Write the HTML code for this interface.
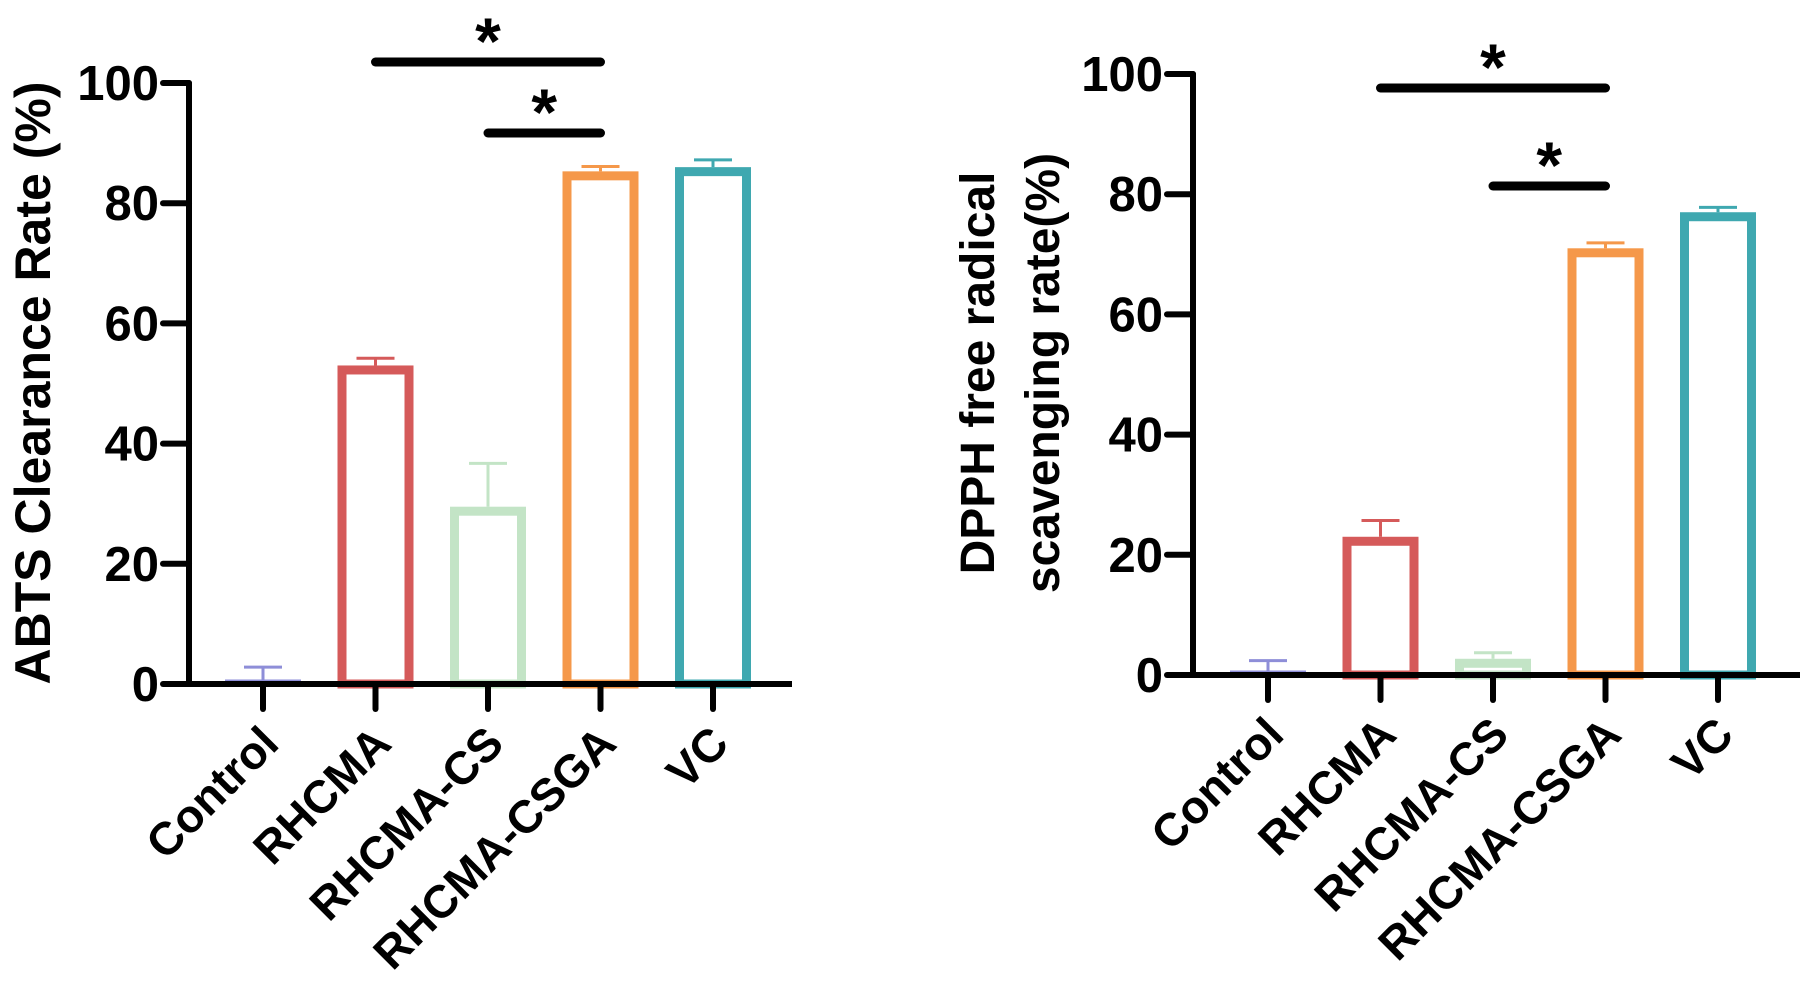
<!DOCTYPE html>
<html><head><meta charset="utf-8"><style>
html,body{margin:0;padding:0;background:#fff;}
svg{display:block;}
text{font-family:"Liberation Sans",Arial,sans-serif;font-weight:bold;fill:#000;}
</style></head>
<body>
<svg id="chart" width="1808" height="981" viewBox="0 0 1808 981"></svg>
<script>
const categories = ["Control","RHCMA","RHCMA-CS","RHCMA-CSGA","VC"];
const colors = ["#8e8ed8","#d55a5a","#c3e4c6","#f5984a","#3fa8b0"];
const yTicks = [0,20,40,60,80,100];
const abtsMeans = [0.5,53,29.5,85.3,86];
const abtsErr = [2.3,1.2,7.2,0.8,1.2];
const dpphMeans = [0.2,23,2.7,71,77];
const dpphErr = [2.2,2.7,1.0,0.9,0.8];
const abtsSig = [[1,3,0],[2,3,1]];
const dpphSig = [[1,3,0],[2,3,1]];

const NS="http://www.w3.org/2000/svg";
const svg=document.getElementById('chart');
function mk(tag,attrs,parent){const e=document.createElementNS(NS,tag);for(const k in attrs)e.setAttribute(k,attrs[k]);(parent||svg).appendChild(e);return e;}

function panel(cfg){
  const g=mk('g',{});
  
  
  const y=v=>cfg.y0-(cfg.y0-cfg.y100)*v/100;
  const x=i=>cfg.x0+cfg.dx*i;
  cfg.means.forEach((m,i)=>{
    const sw=9,w=76,top=y(m),bot=cfg.y0;
    const h=bot-top-sw/2;
    let r;
    if(h>2){
      r=mk('rect',{x:x(i)-w/2+sw/2,y:top+sw/2,width:w-sw,height:h,fill:'none',stroke:colors[i],'stroke-width':sw},g);
    } else {
      r=mk('line',{x1:x(i)-w/2,x2:x(i)+w/2,y1:Math.min(top,bot-3),y2:Math.min(top,bot-3),stroke:colors[i],'stroke-width':3},g);
    }
    
    
    const et=y(m+cfg.err[i]);
    const e1=mk('line',{x1:x(i),x2:x(i),y1:top,y2:et,stroke:colors[i],'stroke-width':3},g);
    
    
    const e2=mk('line',{x1:x(i)-19,x2:x(i)+19,y1:et,y2:et,stroke:colors[i],'stroke-width':3},g);
    
    
  });
  const ya=mk('line',{x1:cfg.ax,x2:cfg.ax,y1:y(100),y2:cfg.y0,stroke:'#000','stroke-width':6,'stroke-linecap':'round'},g);
  
  
  const xa=mk('line',{x1:cfg.ax-26,x2:cfg.xEnd,y1:cfg.y0,y2:cfg.y0,stroke:'#000','stroke-width':6},g);
  
  
  yTicks.forEach(t=>{
    const l=mk('line',{x1:cfg.ax-26,x2:cfg.ax,y1:y(t),y2:y(t),stroke:'#000','stroke-width':6,'stroke-linecap':'round'},g);
    
    
    const tx=mk('text',{x:cfg.ax-30,y:y(t)+17,'text-anchor':'end','font-size':49},g);
    tx.textContent=t;
    
    
  });
  categories.forEach((c,i)=>{
    const l=mk('line',{x1:x(i),x2:x(i),y1:cfg.y0,y2:cfg.y0+25,stroke:'#000','stroke-width':6,'stroke-linecap':'round'},g);
    
    
    const ax=x(i)+18, ay=cfg.y0+62;
    const tx=mk('text',{x:ax,y:ay,'text-anchor':'end','font-size':46,transform:`rotate(-45 ${ax} ${ay})`},g);
    tx.textContent=c;
    
    
  });
  cfg.sig.forEach(s=>{
    const ly=cfg.sigY[s[2]];
    const l=mk('line',{x1:x(s[0]),x2:x(s[1]),y1:ly,y2:ly,stroke:'#000','stroke-width':9,'stroke-linecap':'round'},g);
    
    
    const st=mk('text',{x:(x(s[0])+x(s[1]))/2,y:ly+2,'text-anchor':'middle','font-size':66},g);
    st.textContent='*';
    
    
  });
  cfg.title.forEach((line,k)=>{
    const cx=cfg.titleX[k],cy=cfg.titleY;
    const t=mk('text',{x:cx,y:cy,'text-anchor':'middle','font-size':cfg.titleSize,transform:`rotate(-90 ${cx} ${cy})`},g);
    t.textContent=line;
    
    
  });
}
panel({name:'abts-chart',ax:189,x0:263,dx:112.5,y0:684,y100:83,xEnd:792,means:abtsMeans,err:abtsErr,sig:abtsSig,sigY:[62,133],title:['ABTS Clearance Rate (%)'],titleX:[50],titleY:383,titleSize:50});
panel({name:'dpph-chart',ax:1193,x0:1268,dx:112.5,y0:675,y100:74,xEnd:1800,means:dpphMeans,err:dpphErr,sig:dpphSig,sigY:[88,186],title:['DPPH free radical','scavenging rate(%)'],titleX:[994,1059],titleY:373,titleSize:48});
</script>
</body></html>
